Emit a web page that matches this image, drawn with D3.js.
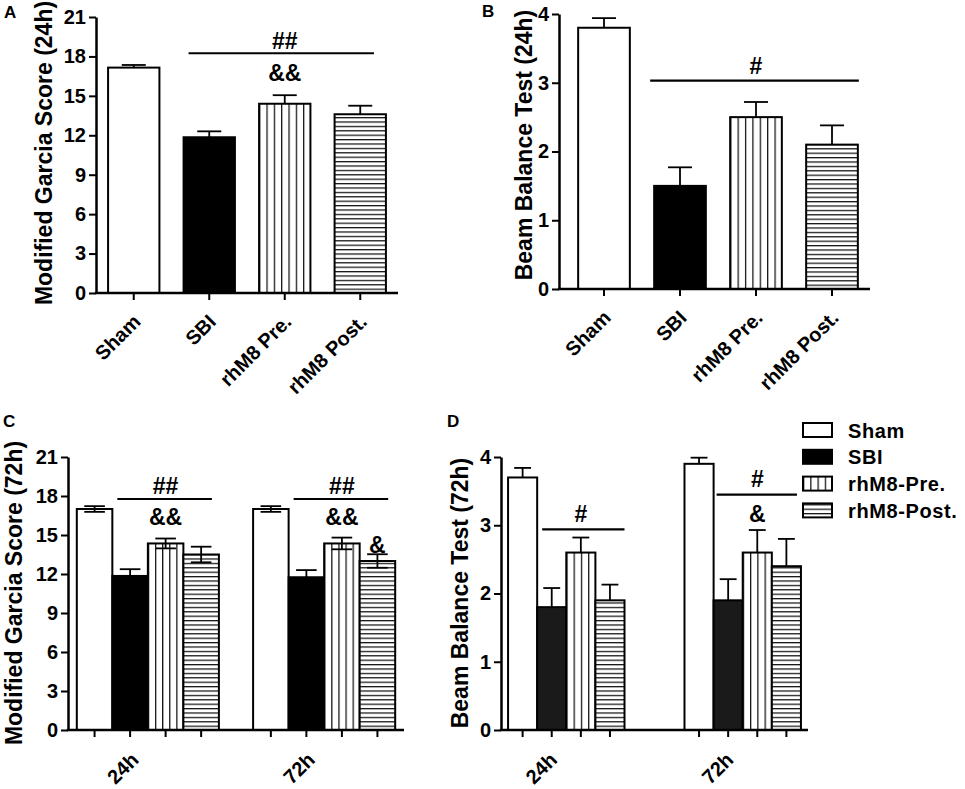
<!DOCTYPE html>
<html>
<head>
<meta charset="utf-8">
<script src="https://cdn.jsdelivr.net/npm/d3@7"></script>
<style>
  body { margin: 0; background: #fff; }
  svg text { font-family: "Liberation Sans", Arial, sans-serif; font-weight: bold; fill: #000; }
</style>
</head>
<body>
<svg id="chart" width="965" height="789"></svg>
<script>
// ---- data ----
const groups24 = ["Sham", "SBI", "rhM8 Pre.", "rhM8 Post."];
const garcia24Mean = [17.15, 11.85, 14.4, 13.6];
const garcia24Err = [0.2, 0.45, 0.65, 0.65];
const beam24Mean = [3.8, 1.5, 2.5, 2.1];
const beam24Err = [0.14, 0.27, 0.22, 0.28];

const timepoints = ["24h", "72h"];
const seriesNames = ["Sham", "SBI", "rhM8-Pre.", "rhM8-Post."];
const garcia72Mean = [[17.0, 11.85, 14.35, 13.5], [17.0, 11.75, 14.35, 13.0]];
const garcia72Err = [[0.22, 0.52, 0.38, 0.6], [0.22, 0.55, 0.45, 0.52]];
const beam72Mean = [[3.7, 1.8, 2.6, 1.9], [3.9, 1.9, 2.6, 2.4]];
const beam72Err = [[0.14, 0.28, 0.22, 0.23], [0.09, 0.31, 0.33, 0.4]];

const garciaTicks = [0, 3, 6, 9, 12, 15, 18, 21];
const beamTicks = [0, 1, 2, 3, 4];

const svg = d3.select("#chart");
const defs = svg.append("defs");
let patCount = 0;

// striped fill anchored on the bar's own edges
function stripeFill(kind, x, y, w, h) {
  const id = "pat" + (patCount++);
  const p = defs.append("pattern").attr("id", id).attr("patternUnits", "userSpaceOnUse");
  if (kind === "v") {
    const step = w / Math.max(1, Math.round(w / 7.3));
    p.attr("x", x).attr("y", 0).attr("width", step).attr("height", 10);
    p.append("line").attr("x1", 0.6).attr("x2", 0.6).attr("y1", 0).attr("y2", 10)
      .attr("stroke", "#111").attr("stroke-width", 1.3);
  } else {
    p.attr("x", 0).attr("y", y + h).attr("width", 10).attr("height", 4.4);
    p.append("line").attr("x1", 0).attr("x2", 10).attr("y1", 0.6).attr("y2", 0.6)
      .attr("stroke", "#111").attr("stroke-width", 1.3);
  }
  return "url(#" + id + ")";
}

function drawBar(g, x, w, yTop, yBase, s, dark) {
  const h = yBase - yTop;
  g.append("rect").attr("x", x).attr("y", yTop).attr("width", w).attr("height", h)
    .attr("fill", s === 1 ? dark : "#fff");
  if (s === 2 || s === 3) {
    g.append("rect").attr("x", x).attr("y", yTop).attr("width", w).attr("height", h)
      .attr("fill", stripeFill(s === 2 ? "v" : "h", x, yTop, w, h));
  }
  g.append("rect").attr("x", x).attr("y", yTop).attr("width", w).attr("height", h)
    .attr("fill", "none").attr("stroke", "#000").attr("stroke-width", 2);
}

function capLine(g, cx, y, cap) {
  g.append("line").attr("x1", cx - cap / 2).attr("x2", cx + cap / 2).attr("y1", y).attr("y2", y)
    .attr("stroke", "#000").attr("stroke-width", 1.8);
}

function errBar(g, cx, yHi, yLo, cap) {
  g.append("line").attr("x1", cx).attr("x2", cx).attr("y1", yHi).attr("y2", yLo)
    .attr("stroke", "#000").attr("stroke-width", 1.8);
  capLine(g, cx, yHi, cap);
}

function yAxis(g, x, scale, ticks) {
  const a = g.append("g").attr("transform", "translate(" + x + ",0)")
    .call(d3.axisLeft(scale).tickValues(ticks).tickFormat(d3.format("d"))
      .tickSize(7).tickPadding(3).tickSizeOuter(0));
  a.select(".domain").attr("stroke", "#000").attr("stroke-width", 2.5);
  a.selectAll(".tick line").attr("stroke", "#000").attr("stroke-width", 2);
  a.selectAll(".tick text").style("font-size", "20px").attr("fill", "#000");
}

function xBaseline(g, x0, x1, y) {
  g.append("line").attr("x1", x0 - 1.2).attr("x2", x1).attr("y1", y).attr("y2", y)
    .attr("stroke", "#000").attr("stroke-width", 2.5);
}

function xTick(g, cx, y) {
  g.append("line").attr("x1", cx).attr("x2", cx).attr("y1", y).attr("y2", y + 7)
    .attr("stroke", "#000").attr("stroke-width", 2);
}

function yTitle(g, x, y, txt) {
  g.append("text").attr("transform", "translate(" + x + "," + y + ") rotate(-90)")
    .attr("text-anchor", "middle").attr("dy", "0.35em").style("font-size", "23px").text(txt);
}

function rotLabel(g, x, y, txt) {
  g.append("text").attr("transform", "translate(" + x + "," + y + ") rotate(-45)")
    .attr("text-anchor", "end").style("font-size", "20px").text(txt);
}

function sigText(g, x, y, txt) {
  g.append("text").attr("x", x).attr("y", y).attr("text-anchor", "middle")
    .style("font-size", "23px").text(txt);
}

function sigLine(g, x1, x2, y) {
  g.append("line").attr("x1", x1).attr("x2", x2).attr("y1", y).attr("y2", y)
    .attr("stroke", "#000").attr("stroke-width", 2.2);
}

function panelLetter(x, y, t) {
  svg.append("text").attr("x", x).attr("y", y).style("font-size", "17px").text(t);
}

// ---- single-time panels (A, B) ----
function simplePanel(opt) {
  const g = svg.append("g");
  const y = d3.scaleLinear().domain(opt.domain).range(opt.yRange);
  const x = d3.scaleBand().domain(groups24).range(opt.xRange).paddingInner(0.32).paddingOuter(0.16);
  const bw = x.bandwidth();
  groups24.forEach((c, i) => {
    const top = y(opt.mean[i]);
    const hi = y(opt.mean[i] + opt.err[i]);
    const cx = x(c) + bw / 2;
    errBar(g, cx, hi, top, 24);
    drawBar(g, x(c), bw, top, y(0), i, "#000");
    xTick(g, cx, y(0));
    rotLabel(g, cx + 8, y(0) + 30, c);
  });
  xBaseline(g, opt.axisX, opt.xRange[1], y(0));
  yAxis(g, opt.axisX, y, opt.ticks);
  yTitle(g, opt.titleX, opt.titleY, opt.title);
  return { g, x, y, bw };
}

const A = simplePanel({ domain: [0, 21], yRange: [293, 17], xRange: [96, 398], axisX: 96,
  mean: garcia24Mean, err: garcia24Err, ticks: garciaTicks,
  title: "Modified Garcia Score (24h)", titleX: 44, titleY: 153 });
{
  const xl = A.x("SBI") + 5, xr = A.x("rhM8 Post.") + A.bw - 12;
  const ly = A.y(18.24);
  sigLine(A.g, xl, xr, ly);
  const mx = (A.x("SBI") + A.x("rhM8 Post.") + A.bw) / 2;
  sigText(A.g, mx, ly - 4, "##");
  sigText(A.g, mx, ly + 28, "&&");
}

const B = simplePanel({ domain: [0, 4], yRange: [289, 14], xRange: [566, 870], axisX: 559,
  mean: beam24Mean, err: beam24Err, ticks: beamTicks,
  title: "Beam Balance Test (24h)", titleX: 524, titleY: 145 });
{
  const xl = B.x("SBI") - 4, xr = B.x("rhM8 Post.") + B.bw + 1;
  const ly = B.y(3.03);
  sigLine(B.g, xl, xr, ly);
  const mx = (B.x("SBI") + B.x("rhM8 Post.") + B.bw) / 2;
  sigText(B.g, mx, ly - 7, "#");
}

// ---- grouped panels (C, D) ----
function groupedPanel(opt) {
  const g = svg.append("g");
  const y = d3.scaleLinear().domain(opt.domain).range([730, 457]);
  const x0 = d3.scaleBand().domain(timepoints).range(opt.xRange)
    .paddingInner(opt.pi).paddingOuter(opt.po);
  const x1 = d3.scaleBand().domain(seriesNames).range([0, x0.bandwidth()]);
  const bw = x1.bandwidth();
  const cap = Math.min(22, bw * 0.58);
  timepoints.forEach((t, ti) => {
    seriesNames.forEach((s, si) => {
      const m = opt.mean[ti][si], e = opt.err[ti][si];
      const bx = x0(t) + x1(s), cx = bx + bw / 2;
      const top = y(m);
      drawBar(g, bx, bw, top, y(0), si, opt.dark);
      if (opt.both) {
        // two-sided SEM drawn over the bar
        g.append("line").attr("x1", cx).attr("x2", cx).attr("y1", y(m + e)).attr("y2", y(m - e))
          .attr("stroke", "#000").attr("stroke-width", 1.8);
        capLine(g, cx, y(m + e), cap);
        if (si !== 1) capLine(g, cx, y(m - e), cap);
      } else {
        errBar(g, cx, y(m + e), top, cap);
      }
      xTick(g, cx, y(0));
    });
    rotLabel(g, x0(t) + x0.bandwidth() / 2 - 8, y(0) + 31, t);
  });
  xBaseline(g, opt.axisX, opt.xRange[1], y(0));
  yAxis(g, opt.axisX, y, opt.ticks);
  yTitle(g, opt.titleX, 593, opt.title);
  const pos = (t, s) => x0(t) + x1(s);
  return { g, y, pos, bw };
}

const C = groupedPanel({ domain: [0, 21], xRange: [68, 404], axisX: 68, pi: 0.194, po: 0.05,
  mean: garcia72Mean, err: garcia72Err, ticks: garciaTicks, both: true, dark: "#000",
  title: "Modified Garcia Score (72h)", titleX: 14 });
timepoints.forEach(t => {
  const xl = C.pos(t, "SBI") + 5, xr = C.pos(t, "rhM8-Post.") + C.bw - 7;
  const ly = C.y(17.77);
  sigLine(C.g, xl, xr, ly);
  const mx = (C.pos(t, "SBI") + C.pos(t, "rhM8-Post.") + C.bw) / 2;
  sigText(C.g, mx, ly - 5, "##");
  sigText(C.g, mx, ly + 26, "&&");
});
{
  const cx = C.pos("72h", "rhM8-Post.") + C.bw / 2;
  sigText(C.g, cx, C.y(garcia72Mean[1][3] + garcia72Err[1][3]) - 1, "&");
}

const D = groupedPanel({ domain: [0, 4], xRange: [501, 808], axisX: 501, pi: 0.34, po: 0.04,
  mean: beam72Mean, err: beam72Err, ticks: beamTicks, both: false, dark: "#1a1a1a",
  title: "Beam Balance Test (72h)", titleX: 460 });
{
  const ly1 = D.y(2.94);
  sigLine(D.g, D.pos("24h", "SBI") + 5, D.pos("24h", "rhM8-Post.") + D.bw, ly1);
  const m1 = (D.pos("24h", "SBI") + D.pos("24h", "rhM8-Post.") + D.bw) / 2;
  sigText(D.g, m1, ly1 - 7, "#");
  const ly2 = D.y(3.45);
  sigLine(D.g, D.pos("72h", "SBI") + 3, D.pos("72h", "rhM8-Post.") + D.bw - 4, ly2);
  const m2 = (D.pos("72h", "SBI") + D.pos("72h", "rhM8-Post.") + D.bw) / 2;
  sigText(D.g, m2, ly2 - 8, "#");
  sigText(D.g, m2, ly2 + 27, "&");
}

// ---- legend ----
const leg = svg.append("g").attr("transform", "translate(803,423)");
seriesNames.forEach((s, i) => {
  const gy = i * 26.8;
  drawBar(leg, 0, 29, gy, gy + 14, i, "#000");
  leg.append("text").attr("x", 45).attr("y", gy + 14.5).style("font-size", "20px")
    .style("letter-spacing", "0.6px").text(s);
});

panelLetter(4, 18, "A");
panelLetter(482, 17, "B");
panelLetter(3, 427, "C");
panelLetter(447, 427, "D");
</script>
</body>
</html>
